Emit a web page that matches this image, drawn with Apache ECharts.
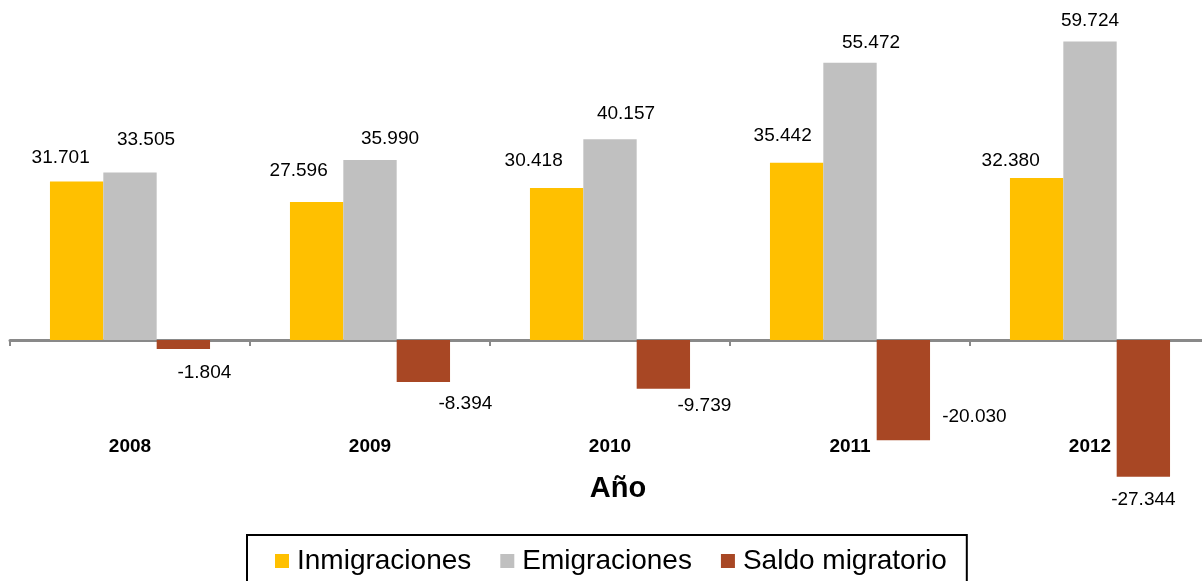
<!DOCTYPE html>
<html>
<head>
<meta charset="utf-8">
<script src="https://cdn.jsdelivr.net/npm/echarts@6/dist/echarts.min.js"></script>
<style>
  html, body { margin: 0; padding: 0; background: #fff; }
  #chart { width: 1202px; height: 581px; }
</style>
</head>
<body>
<div id="chart"></div>
<script>
// ---- data ----
const years = ['2008', '2009', '2010', '2011', '2012'];
const inmigraciones = [31701, 27596, 30418, 35442, 32380];
const emigraciones = [33505, 35990, 40157, 55472, 59724];
const saldoMigratorio = [-1804, -8394, -9739, -20030, -27344];
const seriesNames = ['Inmigraciones', 'Emigraciones', 'Saldo migratorio'];
const axisTitle = 'Año';

// ---- label nudges (layout only, px) ----
const nudgeInm = [[-16, -9], [-18, -17], [-23, -13], [-14, -13], [-26, -3]];
const nudgeEmi = [[16, -18], [20, -7], [16, -11], [21, -5], [0, -6]];
const nudgeSal = [[21, 9], [42, 7], [41, 3], [71, -38], [0, 9]];

const FONT = "'Liberation Sans', Arial, sans-serif";
const colors = ['#FFC000', '#C0C0C0', '#A84724'];

function fmt(v) {
  const s = String(Math.abs(v)).replace(/\B(?=(\d{3})+(?!\d))/g, '.');
  return (v < 0 ? '-' : '') + s;
}

function buildData(values, nudges) {
  return values.map((v, i) => ({
    value: v,
    label: { offset: nudges[i] }
  }));
}

const labelBase = {
  show: true,
  position: 'outside',
  distance: 5,
  fontFamily: FONT,
  fontSize: 19,
  color: '#000',
  formatter: p => fmt(p.value)
};

const chart = echarts.init(document.getElementById('chart'), null, { renderer: 'canvas' });
chart.setOption({
  animation: false,
  backgroundColor: '#fff',
  color: colors,
  grid: { left: 10, width: 1200, top: 40, height: 500, containLabel: false, outerBoundsMode: 'none' },
  legend: {
    data: seriesNames,
    left: 247,
    top: 535,
    orient: 'horizontal',
    itemWidth: 14,
    itemHeight: 14,
    itemGap: 29,
    icon: 'rect',
    borderColor: '#000',
    borderWidth: 2,
    padding: [12, 20, 30, 28],
    textStyle: { fontFamily: FONT, fontSize: 28, color: '#000', padding: [0, 0, 0, 3] }
  },
  xAxis: {
    type: 'category',
    data: years,
    axisLine: { onZero: true, lineStyle: { color: '#898989', width: 3 } },
    axisTick: { show: true, length: 6, lineStyle: { color: '#898989', width: 2 } },
    axisLabel: { margin: -103, fontFamily: FONT, fontSize: 19, fontWeight: 'bold', color: '#000' },
    name: axisTitle,
    nameLocation: 'middle',
    nameGap: -66,
    nameTextStyle: { fontFamily: FONT, fontSize: 29, fontWeight: 'bold', color: '#000', padding: [0, 0, 0, 16] },
    splitLine: { show: false }
  },
  yAxis: {
    type: 'value',
    min: -40000,
    max: 60000,
    interval: 20000,
    show: false,
    splitLine: { show: false }
  },
  series: [
    { name: seriesNames[0], type: 'bar', data: buildData(inmigraciones, nudgeInm), barGap: '0%', barCategoryGap: '33.3%', label: labelBase },
    { name: seriesNames[1], type: 'bar', data: buildData(emigraciones, nudgeEmi), barGap: '0%', barCategoryGap: '33.3%', label: labelBase },
    { name: seriesNames[2], type: 'bar', data: buildData(saldoMigratorio, nudgeSal), barGap: '0%', barCategoryGap: '33.3%', label: labelBase }
  ]
});
</script>
</body>
</html>
